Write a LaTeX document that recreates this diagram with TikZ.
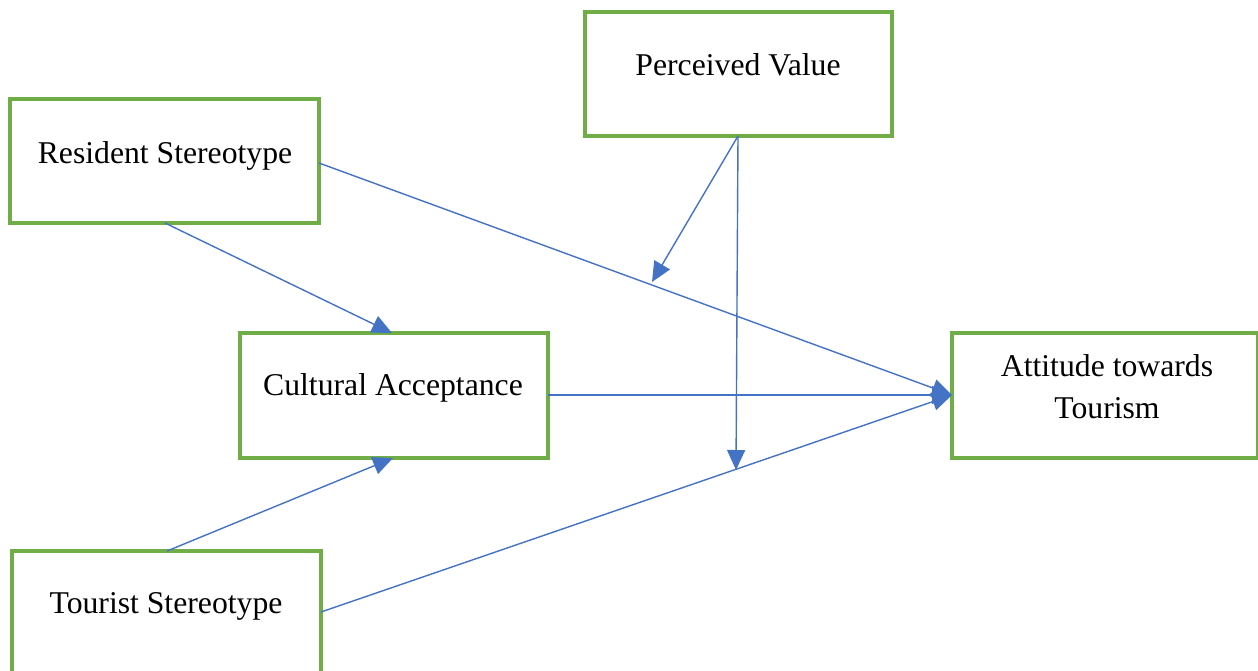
\documentclass[tikz,border=0pt]{standalone}
\usepackage{fontspec}
\setmainfont{Liberation Serif}
\usetikzlibrary{arrows.meta}
\definecolor{boxgreen}{HTML}{70AD47}
\definecolor{lineblue}{HTML}{4472C4}
\tikzset{
  box/.style={draw=boxgreen, line width=1.6pt, minimum width=#1, minimum height=62pt, inner sep=0pt},
  lbl/.style={anchor=base, font=\fontsize{15.85pt}{21pt}\selectfont, inner sep=0pt, align=center},
  conn/.style={draw=lineblue, line width=0.7pt, -{Triangle[length=10pt,width=9pt]}},
}
\begin{document}
\begin{tikzpicture}[x=0.5pt,y=-0.5pt]
\useasboundingbox (0,0) rectangle (1258,670);
% boxes
\node[box=153.5pt] (pv) at (738.5,74) {};
\node[box=154.5pt] (rs) at (164.5,161) {};
\node[box=154pt, minimum height=62.5pt] (ca) at (394,395.5) {};
\node[box=153pt, minimum height=62.5pt] (at) at (1105,395.5) {};
\node[box=154.5pt] (ts) at (166.5,613) {};
% labels
\node[lbl] (pvt) at (738,75) {Perceived Value};
\node[lbl] (rst) at (165,163) {Resident Stereotype};
\node[lbl] (cat) at (393,395) {Cultural Acceptance};
\node[lbl] (att1) at (1107,376) {Attitude towards};
\node[lbl] (att2) at (1107,418) {Tourism};
\node[lbl] (tst) at (166,613) {Tourist Stereotype};
% coordinates
\coordinate (rsB) at (165,223);
\coordinate (rsR) at (319,163);
\coordinate (caT) at (392,333);
\coordinate (caB) at (393,458);
\coordinate (caR) at (548,395);
\coordinate (atL) at (952,395);
\coordinate (tsT) at (167,551);
\coordinate (tsR) at (321,612);
\coordinate (pvB) at (738,136);
\coordinate (m1) at (652,282);
\coordinate (m2) at (736,470);
% connectors
\draw[conn] (rsB) -- (caT);
\draw[conn] (tsT) -- (caB);
\draw[conn] (rsR) -- (atL);
\draw[conn] (caR) -- (atL);
\draw[conn] (tsR) -- (atL);
\draw[conn] (pvB) -- (m1);
\draw[conn] (pvB) -- (m2);
\end{tikzpicture}
\end{document}
